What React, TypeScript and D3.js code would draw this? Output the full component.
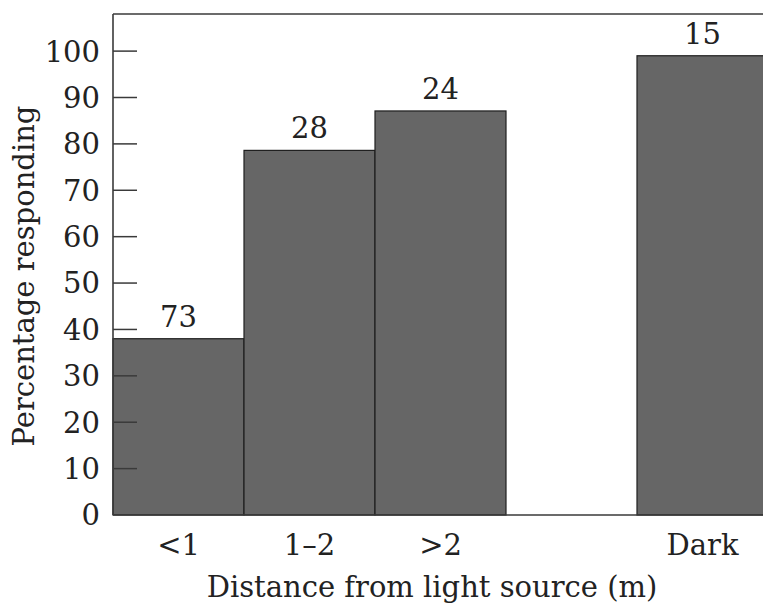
import { RefObject, useEffect, useRef } from "react";
import * as d3 from "d3";

const WIDTH = 763;
const HEIGHT = 606;
const FONT = "'DejaVu Serif', serif";

// chart data
const categories = ["<1", "1–2", ">2", "", "Dark"];
const barCategories = ["<1", "1–2", ">2", "Dark"];
const percentResponding = [38, 78.6, 87.1, 99];
const sampleSizes = [73, 28, 24, 15];
const yTicks = [0, 10, 20, 30, 40, 50, 60, 70, 80, 90, 100];

const margin = { top: 14, left: 113, bottom: 91 };
const STEP = 131;
const FS = 29;

const x = d3
  .scaleBand()
  .domain(categories)
  .range([margin.left, margin.left + STEP * categories.length])
  .paddingInner(0)
  .paddingOuter(0);

const y = d3
  .scaleLinear()
  .domain([0, 108])
  .range([HEIGHT - margin.bottom, margin.top]);

export default function App() {
  const svgRef: RefObject<SVGSVGElement> = useRef(null);

  useEffect(() => {
    const svg = d3.select(svgRef.current);
    svg.selectAll("*").remove();

    const bars = barCategories.map((c, i) => ({
      cat: c,
      value: percentResponding[i],
      n: sampleSizes[i],
    }));

    // bars
    svg
      .append("g")
      .selectAll("rect")
      .data(bars)
      .join("rect")
      .attr("x", (d) => x(d.cat)!)
      .attr("y", (d) => y(d.value))
      .attr("width", x.bandwidth())
      .attr("height", (d) => y(0) - y(d.value))
      .attr("fill", "#666666")
      .attr("stroke", "#1e1e1e")
      .attr("stroke-width", 1.2);

    // frame: top line, left axis, bottom axis
    const frame = svg.append("g").attr("stroke", "#3a3a3a").attr("stroke-width", 1.6);
    frame
      .append("line")
      .attr("x1", margin.left)
      .attr("x2", WIDTH)
      .attr("y1", y(108))
      .attr("y2", y(108));
    frame
      .append("line")
      .attr("x1", margin.left)
      .attr("x2", margin.left)
      .attr("y1", y(108))
      .attr("y2", y(0));
    frame
      .append("line")
      .attr("x1", margin.left)
      .attr("x2", WIDTH)
      .attr("y1", y(0))
      .attr("y2", y(0));

    // y ticks (inward)
    const ticks = svg.append("g");
    ticks
      .selectAll("line")
      .data(yTicks.slice(1))
      .join("line")
      .attr("x1", margin.left)
      .attr("x2", margin.left + 24)
      .attr("y1", (d) => y(d))
      .attr("y2", (d) => y(d))
      .attr("stroke", "#3a3a3a")
      .attr("stroke-width", 1.5);
    ticks
      .selectAll("text")
      .data(yTicks)
      .join("text")
      .attr("x", margin.left - 13)
      .attr("y", (d) => y(d))
      .attr("dy", "0.36em")
      .attr("text-anchor", "end")
      .style("font-family", FONT)
      .attr("font-size", FS)
      .attr("fill", "#222")
      .text((d) => d);

    // value labels (sample sizes)
    svg
      .append("g")
      .selectAll("text")
      .data(bars)
      .join("text")
      .attr("x", (d) => x(d.cat)! + x.bandwidth() / 2)
      .attr("y", (d) => y(d.value) - 12)
      .attr("text-anchor", "middle")
      .style("font-family", FONT)
      .attr("font-size", FS)
      .attr("fill", "#222")
      .text((d) => d.n);

    // category labels
    svg
      .append("g")
      .selectAll("text")
      .data(barCategories)
      .join("text")
      .attr("x", (d) => x(d)! + x.bandwidth() / 2)
      .attr("y", y(0) + 40)
      .attr("text-anchor", "middle")
      .style("font-family", FONT)
      .attr("font-size", FS)
      .attr("fill", "#222")
      .text((d) => d);

    // axis titles
    svg
      .append("text")
      .attr("x", 432)
      .attr("y", 597)
      .attr("text-anchor", "middle")
      .style("font-family", FONT)
      .attr("font-size", FS)
      .attr("fill", "#222")
      .text("Distance from light source (m)");

    svg
      .append("text")
      .attr("transform", `translate(34,276) rotate(-90)`)
      .attr("text-anchor", "middle")
      .style("font-family", FONT)
      .attr("font-size", FS)
      .attr("fill", "#222")
      .text("Percentage responding");
  }, []);

  return (
    <svg
      ref={svgRef}
      width={WIDTH}
      height={HEIGHT}
      style={{ position: "absolute", left: 0, top: 0, background: "#fff" }}
    />
  );
}
